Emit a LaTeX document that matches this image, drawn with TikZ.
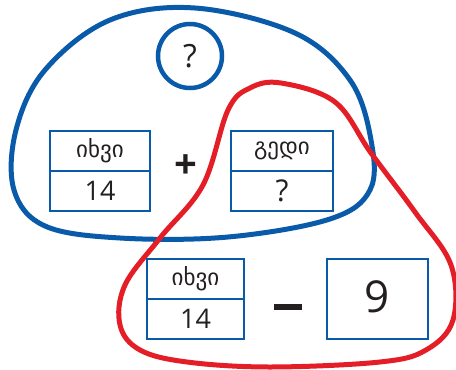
\documentclass[tikz,border=0pt]{standalone}
\usepackage{fontspec}
\setmainfont{Open Sans}
\newfontfamily\geofont{DejaVu Sans}
\definecolor{SetBlue}{HTML}{0A5AAA}
\definecolor{SetRed}{HTML}{E41E26}
\definecolor{InkGray}{HTML}{231F20}
\usepackage{tikz}
\usetikzlibrary{positioning}

\begin{document}
\begin{tikzpicture}[x=1pt,y=-1pt,
    cell/.style={draw=SetBlue,line width=2.5pt,outer sep=0pt,inner sep=0pt,
      minimum width=100pt,minimum height=40pt,text=InkGray,
      font=\fontsize{27}{27}\selectfont},
    wordcell/.style={cell,font=\geofont\fontsize{23}{23}\selectfont},
    blob/.style={line width=5pt,line join=round}]
                \useasboundingbox (0,0) rectangle (456,370);
                % the two sets
                \draw[blob,SetBlue] plot[smooth cycle,tension=0.6] coordinates
                  {(195,8) (295,33) (350,80) (371,140) (370,190) (330,219) (228,237)
                   (120,238) (45,226) (14,190) (16,130) (45,70) (110,20)};
                \draw[blob,SetRed] plot[smooth cycle,tension=0.6] coordinates
                  {(281,83) (335,102) (371,153) (415,212) (451,265) (453,320) (426,350)
                   (380,362) (270,367) (187,362) (140,350) (120,325) (125,285) (160,238)
                   (203,185) (228,110) (250,88)};
                % total
                \node[circle,draw=SetBlue,line width=4.5pt,minimum size=64pt,inner sep=0pt,
                  text=InkGray,font=\fontsize{32}{32}\selectfont] (total) at (190,56) {?};
                % duck + swan
                \node[wordcell] (duckA) at (100,151) {იხვი};
                \node[cell,below=0pt of duckA] (duckAnum) {14};
                \node[text=InkGray,font=\fontsize{40}{40}\selectfont\bfseries] (plus) at (186,167) {+};
                \node[wordcell,minimum width=102pt] (swan) at (282,151) {გედი};
                \node[cell,minimum width=102pt,below=0pt of swan,font=\fontsize{30}{30}\selectfont] (swannum) {?};
                % duck - 9
                \node[wordcell,minimum width=97pt] (duckB) at (195.5,279) {იხვი};
                \node[cell,minimum width=97pt,below=0pt of duckB] (duckBnum) {14};
                \node[fill=InkGray,minimum width=28pt,minimum height=6pt,inner sep=0pt] (minus) at (288,307) {};
                \node[cell,minimum width=101pt,minimum height=80pt,font=\fontsize{44}{44}\selectfont] (nine) at (377.5,299) {\raisebox{4pt}{9}};
\end{tikzpicture}
\end{document}
